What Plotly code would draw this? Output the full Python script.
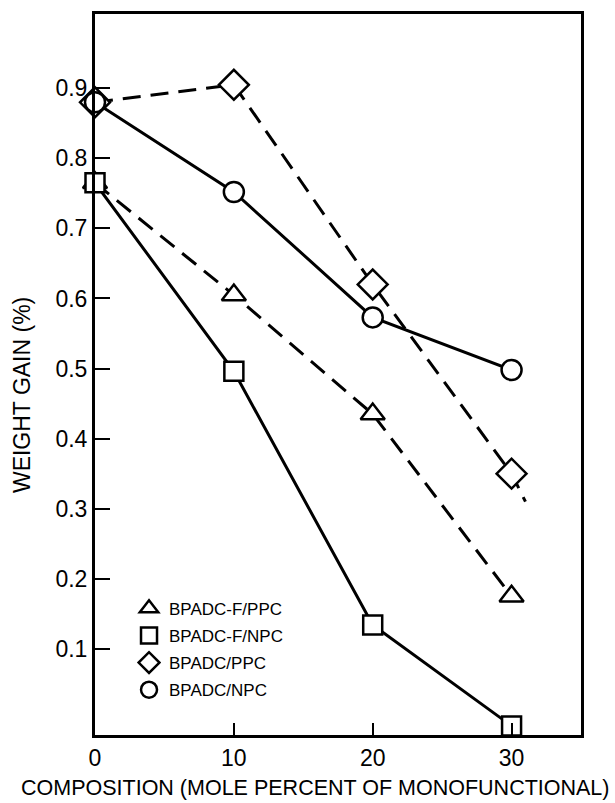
import plotly.graph_objects as go

# ---- data ----
comp = [0, 10, 20, 30]
f_ppc = [0.765, 0.605, 0.435, 0.175]      # BPADC-F/PPC (triangles, dashed)
f_npc = [0.765, 0.496, 0.134, -0.01]      # BPADC-F/NPC (squares, solid)
ppc = [0.88, 0.905, 0.62, 0.35]           # BPADC/PPC (diamonds, dashed)
npc = [0.88, 0.752, 0.573, 0.498]         # BPADC/NPC (circles, solid)
ppc_line_x = [0, 10, 20, 30, 31]          # dashed PPC line extends a bit beyond last point
ppc_line_y = [0.88, 0.905, 0.62, 0.35, 0.31]

names = ["BPADC-F/PPC", "BPADC-F/NPC", "BPADC/PPC", "BPADC/NPC"]
x_ticks = [0, 10, 20, 30]
y_ticks = [0.1, 0.2, 0.3, 0.4, 0.5, 0.6, 0.7, 0.8, 0.9]
x_title = "COMPOSITION (MOLE PERCENT OF MONOFUNCTIONAL)"
y_title = "WEIGHT GAIN (%)"

FONT = "Liberation Sans, Arial, sans-serif"
DASH = "18px,10px"

fig = go.Figure()

# lines
line_specs = [
    (comp, f_ppc, DASH),
    (comp, f_npc, "solid"),
    (ppc_line_x, ppc_line_y, DASH),
    (comp, npc, "solid"),
]
for xs, ys, d in line_specs:
    fig.add_trace(go.Scatter(x=xs, y=ys, mode="lines", showlegend=False,
                             line=dict(color="black", width=3, dash=d),
                             hoverinfo="skip"))

# markers
marker_specs = [
    (f_ppc, "triangle-up", 21),
    (f_npc, "square", 19),
    (ppc, "diamond", 23),
    (npc, "circle", 20),
]
for i, ((ys, sym, sz), nm) in enumerate(zip(marker_specs, names)):
    fig.add_trace(go.Scatter(x=comp, y=ys, mode="markers", name=nm,
                             legendgroup=f"g{i}",
                             marker=dict(symbol=sym, size=sz, color="white",
                                         line=dict(color="black", width=2.5)),
                             cliponaxis=False))

fig.update_layout(
    width=615, height=803,
    margin=dict(l=95, r=34, t=14, b=68, autoexpand=False),
    paper_bgcolor="white", plot_bgcolor="white",
    font=dict(family=FONT, color="black", size=18),
    showlegend=True,
    legend=dict(x=0.07, y=0.2, xanchor="left", yanchor="top",
                bgcolor="rgba(0,0,0,0)", font=dict(size=17, family=FONT),
                itemsizing="trace", tracegroupgap=2),
    xaxis=dict(range=[0, 35], tickvals=x_ticks, ticktext=[str(v) for v in x_ticks],
               ticks="inside", ticklen=12, tickwidth=2, tickcolor="black",
               showline=True, linewidth=3, linecolor="black", mirror=True,
               showgrid=False, zeroline=False, automargin=False,
               tickfont=dict(size=23, family=FONT)),
    yaxis=dict(range=[-0.023, 1.006], tickvals=y_ticks,
               ticktext=[f"{v:.1f}" for v in y_ticks],
               ticks="inside", ticklen=15, tickwidth=2, tickcolor="black",
               showline=True, linewidth=3, linecolor="black", mirror=True,
               showgrid=False, zeroline=False, automargin=False,
               tickfont=dict(size=23, family=FONT)),
    annotations=[
        dict(text=x_title, xref="paper", yref="paper", x=0.453, y=-0.0735,
             xanchor="center", yanchor="middle", showarrow=False,
             font=dict(size=21.5, family=FONT)),
        dict(text=y_title, xref="paper", yref="paper", x=-0.150, y=0.4716,
             xanchor="center", yanchor="middle", showarrow=False, textangle=-90,
             font=dict(size=23, family=FONT)),
    ],
)

fig.write_html("out.html")
